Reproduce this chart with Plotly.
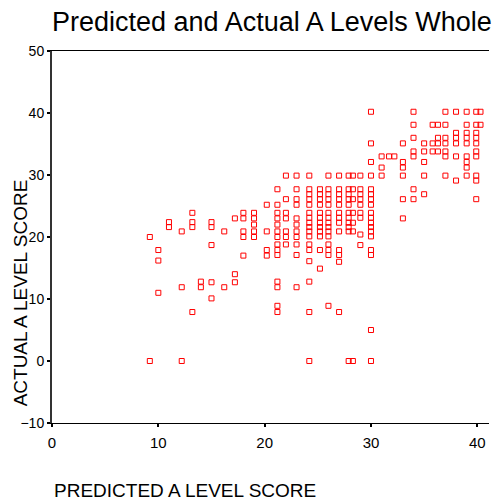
import plotly.graph_objects as go

# Predicted A level score (x) and actual A level score (y)
predicted = [
    9.2, 9.2,
    10.0, 10.0, 10.0,
    11.0, 11.0,
    12.2, 12.2, 12.2,
    13.2, 13.2, 13.2, 13.2,
    14.0, 14.0,
    15.0, 15.0, 15.0, 15.0, 15.0,
    16.2, 16.2,
    17.2, 17.2, 17.2,
    18.0, 18.0, 18.0, 18.0, 18.0,
    19.0, 19.0, 19.0, 19.0, 19.0,
    20.2, 20.2, 20.2, 20.2,
    21.2, 21.2, 21.2, 21.2, 21.2, 21.2, 21.2, 21.2, 21.2, 21.2, 21.2, 21.2, 21.2, 21.2,
    22.0, 22.0, 22.0, 22.0, 22.0, 22.0, 22.0,
    23.0, 23.0, 23.0, 23.0, 23.0, 23.0, 23.0, 23.0, 23.0, 23.0, 23.0,
    24.2, 24.2, 24.2, 24.2, 24.2, 24.2, 24.2, 24.2, 24.2, 24.2, 24.2, 24.2, 24.2, 24.2, 24.2, 24.2, 24.2,
    25.2, 25.2, 25.2, 25.2, 25.2, 25.2, 25.2, 25.2, 25.2, 25.2, 25.2, 25.2,
    26.0, 26.0, 26.0, 26.0, 26.0, 26.0, 26.0, 26.0, 26.0, 26.0, 26.0, 26.0, 26.0, 26.0, 26.0,
    27.0, 27.0, 27.0, 27.0, 27.0, 27.0, 27.0, 27.0, 27.0, 27.0, 27.0, 27.0, 27.0,
    27.9, 27.9, 27.9, 27.9, 27.9, 27.9, 27.9, 27.9, 27.9, 27.9, 27.9,
    28.3, 28.3, 28.3, 28.3, 28.3, 28.3, 28.3,
    29.0, 29.0, 29.0, 29.0, 29.0, 29.0, 29.0, 29.0, 29.0,
    30.0, 30.0, 30.0, 30.0, 30.0, 30.0, 30.0, 30.0, 30.0, 30.0, 30.0, 30.0, 30.0, 30.0, 30.0, 30.0, 30.0, 30.0,
    31.0, 31.0, 31.0,
    31.7,
    32.2,
    33.0, 33.0, 33.0, 33.0, 33.0, 33.0,
    34.0, 34.0, 34.0, 34.0, 34.0, 34.0, 34.0,
    35.0, 35.0, 35.0, 35.0, 35.0,
    35.8, 35.8, 35.8,
    36.3, 36.3, 36.3, 36.3,
    37.0, 37.0, 37.0, 37.0, 37.0, 37.0, 37.0,
    38.0, 38.0, 38.0, 38.0, 38.0, 38.0,
    39.0, 39.0, 39.0, 39.0, 39.0, 39.0, 39.0, 39.0, 39.0,
    39.9, 39.9, 39.9, 39.9, 39.9, 39.9, 39.9, 39.9, 39.9, 39.9,
    40.3, 40.3,
]

actual = [
    20.0, 0.0,
    17.9, 16.2, 11.0,
    22.4, 21.6,
    20.9, 11.9, 0.0,
    23.9, 22.4, 21.6, 7.9,
    12.8, 11.9,
    22.4, 21.6, 18.7, 12.7, 10.1,
    20.9, 11.9,
    23.0, 14.0, 12.7,
    23.9, 23.0, 20.9, 20.0, 17.0,
    23.9, 23.0, 22.0, 20.9, 20.0,
    25.2, 20.9, 17.9, 17.0,
    27.7, 25.2, 23.9, 23.0, 22.0, 20.9, 20.0, 18.8, 17.9, 17.1, 12.8, 11.9, 8.9, 7.9,
    29.9, 26.1, 23.9, 23.0, 20.9, 20.0, 18.8,
    29.9, 27.7, 26.1, 25.2, 23.0, 22.0, 20.9, 20.0, 18.8, 17.1, 11.9,
    29.9, 27.7, 26.9, 26.1, 25.2, 23.9, 23.1, 22.3, 21.6, 20.9, 20.1, 18.8, 17.9, 16.1, 12.8, 7.9, 0.0,
    27.7, 26.9, 26.1, 25.2, 23.9, 23.1, 22.3, 21.6, 20.9, 20.1, 17.9, 14.9,
    29.9, 27.7, 26.9, 26.1, 25.2, 23.9, 23.1, 22.3, 21.6, 20.9, 20.1, 18.8, 17.9, 17.1, 8.9,
    29.9, 27.7, 26.9, 26.1, 25.2, 23.9, 23.1, 22.3, 20.9, 17.9, 17.1, 16.0, 7.9,
    29.9, 27.7, 26.9, 26.1, 25.2, 23.9, 23.1, 22.3, 21.6, 20.9, 0.0,
    29.9, 27.7, 26.1, 23.9, 22.3, 20.9, 0.0,
    29.9, 27.7, 26.9, 26.1, 25.2, 23.9, 23.1, 20.4, 18.7,
    40.2, 35.1, 32.1, 29.9, 27.7, 26.9, 26.1, 25.2, 23.9, 23.1, 22.3, 21.6, 20.9, 20.1, 17.9, 17.1, 5.0, 0.0,
    33.0, 31.2, 29.9,
    33.0,
    33.0,
    35.1, 32.1, 31.2, 29.9, 26.1, 23.0,
    40.2, 38.1, 36.0, 33.8, 33.0, 27.7, 26.1,
    35.1, 33.8, 32.1, 29.9, 26.9,
    38.1, 35.1, 33.8,
    38.1, 36.0, 35.1, 33.8,
    40.2, 38.1, 36.0, 35.1, 33.8, 33.0, 29.9,
    40.2, 36.8, 36.0, 35.1, 33.0, 29.1,
    40.2, 38.1, 36.8, 36.0, 35.1, 33.0, 32.1, 31.2, 29.9,
    40.2, 38.1, 36.8, 36.0, 35.1, 33.8, 33.0, 29.9, 29.1, 26.1,
    40.2, 38.1,
]

x_ticks = [0, 10, 20, 30, 40]
y_ticks = [-10, 0, 10, 20, 30, 40, 50]

title_text = "Predicted and Actual A Levels Whole"
x_title = "PREDICTED A LEVEL SCORE"
y_title = "ACTUAL A LEVEL SCORE"

FONT = "Liberation Sans, Arial, sans-serif"

fig = go.Figure(
    go.Scatter(
        x=predicted,
        y=actual,
        mode="markers",
        marker=dict(symbol="square-open", size=5, color="red", line=dict(width=1, color="red")),
        hoverinfo="x+y",
    )
)

fig.update_layout(
    width=494,
    height=503,
    margin=dict(l=52, r=5, t=51, b=80),
    paper_bgcolor="white",
    plot_bgcolor="white",
    showlegend=False,
    font=dict(family=FONT, color="black", size=14),
    title=dict(
        text=title_text,
        font=dict(family=FONT, size=27, color="black"),
        x=52 / 494,
        xanchor="left",
        xref="container",
        y=1 - 22 / 503,
        yanchor="middle",
        yref="container",
    ),
    xaxis=dict(
        range=[0, 41.1],
        tickvals=x_ticks,
        showgrid=False,
        zeroline=False,
        showline=True,
        linecolor="black",
        linewidth=1,
        mirror=True,
        ticks="outside",
        ticklen=3,
        tickwidth=2,
        tickcolor="black",
        tickfont=dict(size=15),
        ticklabelstandoff=3,
    ),
    yaxis=dict(
        range=[-10, 50],
        tickvals=y_ticks,
        showgrid=False,
        zeroline=False,
        showline=True,
        linecolor="#333333",
        linewidth=2,
        ticks="outside",
        ticklen=3,
        tickwidth=2,
        tickcolor="black",
        tickfont=dict(size=14),
    ),
    annotations=[
        dict(
            text=x_title,
            xref="paper",
            yref="paper",
            x=0,
            y=(422.6 - 490) / 371.9,
            xanchor="left",
            yanchor="middle",
            showarrow=False,
            font=dict(family=FONT, size=19, color="black"),
        ),
        dict(
            text=y_title,
            xref="paper",
            yref="paper",
            x=(20 - 52) / 437,
            y=(422.6 - 293) / 371.9,
            xanchor="center",
            yanchor="middle",
            textangle=-90,
            showarrow=False,
            font=dict(family=FONT, size=19, color="black"),
        ),
    ],
)

fig.write_html(
    "out.html",
    config={"displayModeBar": False},
    post_script="document.body.style.margin='0';document.body.style.overflow='hidden';",
)
